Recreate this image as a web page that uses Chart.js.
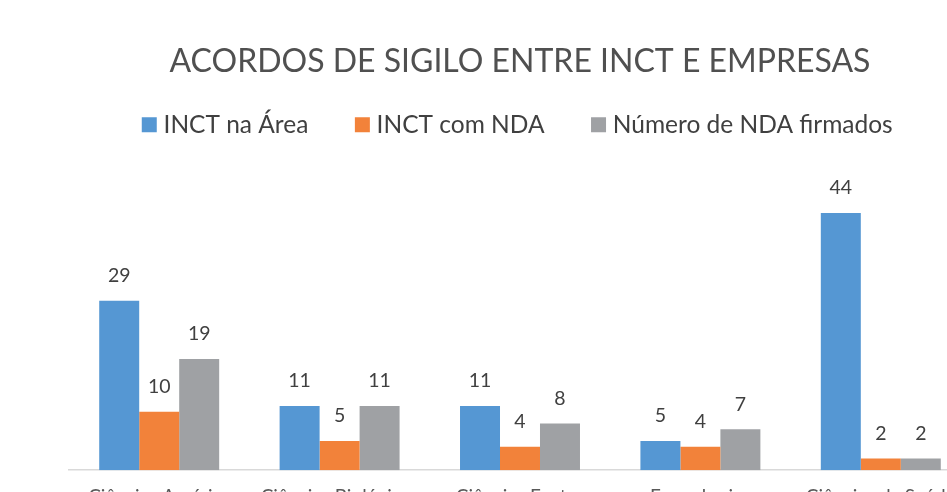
<!DOCTYPE html>
<html>
<head>
<meta charset="utf-8">
<script src="https://cdn.jsdelivr.net/npm/chart.js@4/dist/chart.umd.min.js"></script>
<style>
html,body{margin:0;padding:0;background:#fff;overflow:hidden;width:947px;height:492px;}
#wrap{position:absolute;left:0;top:0;width:1040px;height:523px;}
</style>
</head>
<body>
<div id="wrap"><canvas id="c" width="1040" height="523"></canvas></div>
<script>
const chartTitle = "ACORDOS DE SIGILO ENTRE INCT E EMPRESAS";
const categories = ["Ciências Agrárias", "Ciências Biológicas", "Ciências Exatas", "Engenharias", "Ciências da Saúde"];
const seriesNames = ["INCT na Área", "INCT com NDA", "Número de NDA firmados"];
const inctNaArea = [29, 11, 11, 5, 44];
const inctComNda = [10, 5, 4, 4, 2];
const ndaFirmados = [19, 11, 8, 7, 2];
const colors = ["#5597D3", "#F2823A", "#9FA1A4"];

const FONT = "Lato, 'Open Sans', sans-serif";

const valueLabels = {
  id: 'valueLabels',
  afterDatasetsDraw(chart) {
    const ctx = chart.ctx;
    ctx.save();
    ctx.font = "19.5px " + FONT;
    ctx.fillStyle = "#404040";
    ctx.textAlign = "center";
    ctx.textBaseline = "middle";
    chart.data.datasets.forEach((ds, i) => {
      const meta = chart.getDatasetMeta(i);
      meta.data.forEach((bar, j) => {
        ctx.fillText(String(ds.data[j]), bar.x, bar.y - 25);
      });
    });
    ctx.restore();
  }
};

new Chart(document.getElementById('c'), {
  type: 'bar',
  data: {
    labels: categories,
    datasets: [
      { label: seriesNames[0], data: inctNaArea, backgroundColor: colors[0], borderWidth: 0, pointStyle: 'rect' },
      { label: seriesNames[1], data: inctComNda, backgroundColor: colors[1], borderWidth: 0, pointStyle: 'rect' },
      { label: seriesNames[2], data: ndaFirmados, backgroundColor: colors[2], borderWidth: 0, pointStyle: 'rect' }
    ]
  },
  options: {
    responsive: false,
    animation: false,
    devicePixelRatio: 1,
    layout: { padding: { left: 69, right: 69, top: 0, bottom: 0 } },
    datasets: { bar: { categoryPercentage: 0.665, barPercentage: 1.0 } },
    plugins: {
      title: {
        display: true,
        text: chartTitle,
        color: "#505050",
        font: { family: FONT, size: 32, weight: 400 },
        padding: { top: 42, bottom: -20 }
      },
      legend: {
        display: true,
        position: 'top',
        labels: {
          color: "#404040",
          font: { family: FONT, size: 24.5 },
          usePointStyle: true,
          boxWidth: 4,
          boxHeight: 15,
          padding: 52
        }
      },
      tooltip: { enabled: false }
    },
    scales: {
      x: {
        grid: { display: false, drawTicks: false },
        border: { display: true, color: "#D9D9D9", width: 1.5 },
        ticks: { color: "#595959", font: { family: FONT, size: 19 }, padding: 15, maxRotation: 0, autoSkip: false }
      },
      y: {
        display: false,
        min: 0,
        max: 55.3
      }
    }
  },
  plugins: [valueLabels]
});
</script>
</body>
</html>
